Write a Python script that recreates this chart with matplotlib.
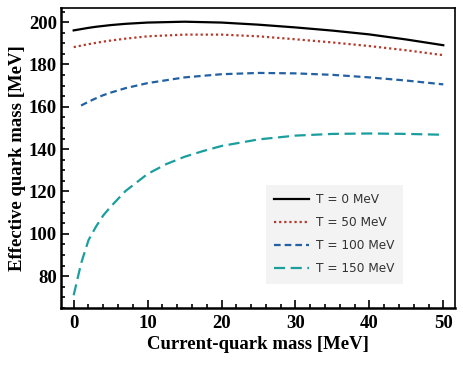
import numpy as np
import matplotlib
matplotlib.use("Agg")
from matplotlib import pyplot as plt
from matplotlib.ticker import MultipleLocator

# current-quark mass [MeV]
m0 = [0, 1, 2, 3, 4, 5, 7, 10, 15, 20, 25, 30, 35, 40, 45, 50]
m0_100 = [1, 2, 3, 4, 5, 7, 10, 15, 20, 25, 30, 35, 40, 45, 50]
m0_150 = [0, 0.5, 1, 1.5, 2, 3, 4, 5, 7, 10, 12.5, 15, 17.5, 20, 25, 30, 35, 40, 45, 50]

# effective quark mass [MeV]
M_T0 = [196.1, 196.7, 197.3, 197.8, 198.2, 198.6, 199.2, 199.8, 200.2, 199.8, 198.8,
        197.5, 196.0, 194.2, 191.8, 189.1]
M_T50 = [188.2, 188.9, 189.6, 190.2, 190.8, 191.3, 192.2, 193.3, 194.1, 194.1, 193.3,
         191.9, 190.4, 188.7, 186.7, 184.4]
M_T100 = [160.6, 162.4, 164.0, 165.5, 166.7, 168.8, 171.2, 173.9, 175.4, 176.0, 175.8,
          175.1, 173.9, 172.4, 170.6]
M_T150 = [71.0, 78.5, 86.0, 91.5, 97.0, 103.3, 108.7, 112.8, 120.2, 128.3, 132.9,
          136.4, 139.1, 141.5, 144.6, 146.4, 147.2, 147.4, 147.2, 146.8]

fig = plt.figure(figsize=(4.63, 3.71), dpi=100)
ax = fig.add_axes([0.132, 0.170, 0.851, 0.808])

ax.plot(m0, M_T0, color="black", lw=1.6, label="T = 0 MeV")
ax.plot(m0, M_T50, color="#b5392a", lw=1.6, ls=(0, (1, 1.3)), label="T = 50 MeV")
ax.plot(m0_100, M_T100, color="#2261a3", lw=1.6, ls=(0, (3, 1.8)), label="T = 100 MeV")
ax.plot(m0_150, M_T150, color="#1a9e9e", lw=1.6, ls=(0, (5, 2.5)), label="T = 150 MeV")

ax.set_xlim(-1.7, 51.6)
ax.set_ylim(65, 206.6)
ax.xaxis.set_major_locator(MultipleLocator(10))
ax.xaxis.set_minor_locator(MultipleLocator(2))
ax.yaxis.set_major_locator(MultipleLocator(20))
ax.yaxis.set_minor_locator(MultipleLocator(5))
ax.tick_params(which="both", direction="in", width=1.2, top=False, right=False)
ax.tick_params(which="major", length=6)
ax.tick_params(which="minor", length=3)

for s in ["left", "bottom"]:
    ax.spines[s].set_linewidth(1.8)
for s in ["top", "right"]:
    ax.spines[s].set_linewidth(1.2)

tfont = {"family": "Liberation Serif", "weight": "bold", "size": 13.5}
for lab in ax.get_xticklabels() + ax.get_yticklabels():
    lab.set_fontfamily("Liberation Serif")
    lab.set_fontweight("bold")
    lab.set_fontsize(13.5)
ax.tick_params(axis="x", pad=5)
ax.tick_params(axis="y", pad=3)

ax.set_xlabel("Current-quark mass [MeV]", fontdict=tfont, labelpad=3)
ax.set_ylabel("Effective quark mass [MeV]", fontdict=tfont, labelpad=2)

leg = ax.legend(loc="lower right", bbox_to_anchor=(0.868, 0.08), borderaxespad=0,
                prop={"family": "DejaVu Sans", "size": 8.7}, handlelength=2.9,
                handletextpad=0.6, labelspacing=0.83, borderpad=0.7,
                frameon=True, fancybox=False, facecolor="#f3f3f3", edgecolor="none",
                framealpha=1)
for t in leg.get_texts():
    t.set_color("#333333")

fig.savefig("out.png", dpi=100)
